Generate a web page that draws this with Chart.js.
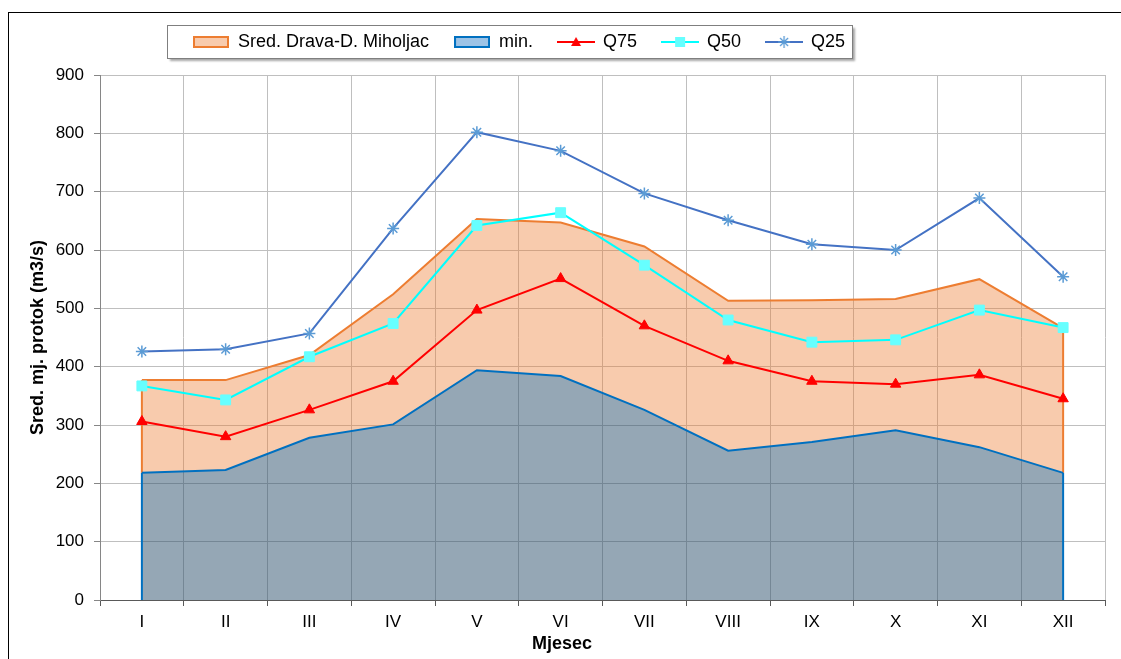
<!DOCTYPE html>
<html><head><meta charset="utf-8">
<script src="https://cdn.jsdelivr.net/npm/chart.js@4"></script>
<style>html,body{margin:0;padding:0;background:#fff}#wrap{width:1121px;height:659px}</style>
</head><body><div id="wrap"><canvas id="c" width="1121" height="659"></canvas></div>
<script>
// ---- data ----
const months = ['I','II','III','IV','V','VI','VII','VIII','IX','X','XI','XII'];
const sredDrava = [377, 377, 420, 524, 653, 647, 606, 513, 514, 516, 550, 466];
const minFlow   = [218, 223, 278, 301, 394, 384, 326, 256, 271, 291, 262, 218];
const q75       = [306, 280, 326, 375, 497, 551, 470, 410, 375, 370, 386, 345];
const q50       = [367, 343, 417, 474, 642, 664, 574, 480, 442, 446, 497, 467];
const q25       = [426, 430, 457, 637, 802, 770, 697, 651, 610, 600, 689, 554];
const yAxisMin = 0, yAxisMax = 900, yAxisStep = 100;
const seriesNames = ['Sred. Drava-D. Miholjac', 'min.', 'Q75', 'Q50', 'Q25'];
const xTitle = 'Mjesec';
const yTitle = 'Sred. mj. protok (m3/s)';

// ---- legend symbols ----
function patchImg(fill, stroke) {
  const c = document.createElement('canvas'); c.width = 36; c.height = 12;
  const g = c.getContext('2d');
  g.fillStyle = fill; g.fillRect(1, 1, 34, 10);
  g.strokeStyle = stroke; g.lineWidth = 2; g.strokeRect(1, 1, 34, 10);
  return c;
}
function lineImg(color, marker, mcolor) {
  const c = document.createElement('canvas'); c.width = 38; c.height = 14;
  const g = c.getContext('2d');
  g.strokeStyle = color; g.lineWidth = 2;
  g.beginPath(); g.moveTo(0, 7); g.lineTo(38, 7); g.stroke();
  g.fillStyle = mcolor; g.strokeStyle = mcolor;
  if (marker === 'tri') { g.beginPath(); g.moveTo(19, 2); g.lineTo(24, 11); g.lineTo(14, 11); g.closePath(); g.fill(); }
  else if (marker === 'sq') { g.fillRect(14, 2, 10, 10); }
  else { g.lineWidth = 1.3; g.beginPath();
    g.moveTo(19, 1); g.lineTo(19, 13); g.moveTo(13, 7); g.lineTo(25, 7);
    g.moveTo(15, 3); g.lineTo(23, 11); g.moveTo(23, 3); g.lineTo(15, 11); g.stroke(); }
  return c;
}
const legendImgs = [
  patchImg('#F8CBAD', '#ED7D31'),
  patchImg('#9DC3E6', '#0070C0'),
  lineImg('#FF0000', 'tri', '#FF0000'),
  lineImg('#00FFFF', 'sq', '#66FFFF'),
  lineImg('#4472C4', 'star', '#5B9BD5')
];

// ---- plugins ----
const decor = {
  id: 'decor',
  afterLayout(chart) {
    const lg = chart.legend;
    lg.left = 168; lg.right = 1121; lg.top = 8;
    const tb = chart.titleBlock;
    if (tb) { tb.left = 0; tb.right = 1124; }
  },
  beforeDraw(chart) {
    const ctx = chart.ctx;
    ctx.save();
    ctx.fillStyle = '#fff'; ctx.fillRect(0, 0, chart.width, chart.height);
    ctx.strokeStyle = '#000'; ctx.lineWidth = 1;
    ctx.strokeRect(8.5, 12.5, 3000, 3000);
    const hb = chart.legend.legendHitBoxes;
    if (hb && hb.length) {
      const cy = hb[0].top + 9;
      const l = Math.round(hb[0].left - 26) + 0.5;
      const last = hb[hb.length - 1];
      const r = Math.round(last.left + last.width + 7) + 0.5;
      const t = Math.round(cy - 17) + 0.5, b = Math.round(cy + 16) + 0.5;
      ctx.shadowColor = 'rgba(0,0,0,0.35)'; ctx.shadowOffsetX = 2; ctx.shadowOffsetY = 2; ctx.shadowBlur = 2;
      ctx.fillStyle = '#fff'; ctx.fillRect(l, t, r - l, b - t);
      ctx.shadowColor = 'transparent';
      ctx.strokeStyle = '#7F7F7F'; ctx.strokeRect(l, t, r - l, b - t);
    }
    ctx.restore();
  },
  afterDatasetDraw(chart, args) {
    const ctx = chart.ctx;
    const y = chart.scales.y;
    if (args.index === 0 || args.index === 1) {
      const meta = chart.getDatasetMeta(args.index);
      const minMeta = chart.getDatasetMeta(1);
      const pts = [0, meta.data.length - 1];
      ctx.save();
      ctx.strokeStyle = args.index === 0 ? '#ED7D31' : '#0070C0';
      ctx.lineWidth = 2;
      pts.forEach(i => {
        const p = meta.data[i];
        const yb = args.index === 0 ? minMeta.data[i].y : y.getPixelForValue(0);
        ctx.beginPath(); ctx.moveTo(p.x, p.y); ctx.lineTo(p.x, yb); ctx.stroke();
      });
      ctx.restore();
    }
  }
};

Chart.defaults.font.family = '"Liberation Sans", Arial, sans-serif';
Chart.defaults.color = '#000';

new Chart(document.getElementById('c'), {
  type: 'line',
  data: {
    labels: months,
    datasets: [
      { label: seriesNames[0], data: sredDrava, order: 5, borderColor: '#ED7D31', borderWidth: 2,
        backgroundColor: 'rgba(237,125,49,0.4)', fill: 1, pointRadius: 0 },
      { label: seriesNames[1], data: minFlow, order: 4, borderColor: '#0070C0', borderWidth: 2,
        backgroundColor: 'rgba(43,79,107,0.5)', fill: 'origin', pointRadius: 0 },
      { label: seriesNames[2], data: q75, order: 1, borderColor: '#FF0000', borderWidth: 2, fill: false,
        pointStyle: 'triangle', pointRadius: 6, pointBackgroundColor: '#FF0000', pointBorderColor: '#FF0000', pointBorderWidth: 1 },
      { label: seriesNames[3], data: q50, order: 2, borderColor: '#00FFFF', borderWidth: 2, fill: false,
        pointStyle: 'rect', pointRadius: 7, pointBackgroundColor: '#66FFFF', pointBorderColor: '#66FFFF', pointBorderWidth: 1 },
      { label: seriesNames[4], data: q25, order: 3, borderColor: '#4472C4', borderWidth: 2, fill: false,
        pointStyle: 'star', pointRadius: 6, pointBorderColor: '#5B9BD5', pointBorderWidth: 1.5 }
    ]
  },
  options: {
    responsive: false,
    animation: false,
    devicePixelRatio: 1,
    layout: { padding: { left: 0, right: 16, top: 22, bottom: 0 } },
    elements: { line: { tension: 0 } },
    plugins: {
      tooltip: { enabled: false },
      legend: {
        position: 'top', align: 'start',
        labels: {
          usePointStyle: true, pointStyleWidth: 36, padding: 25,
          font: { size: 18 }, color: '#000',
          generateLabels(chart) {
            return chart.data.datasets.map((ds, i) => ({
              text: ds.label, pointStyle: legendImgs[i], fillStyle: '#fff', strokeStyle: '#fff',
              lineWidth: 0, hidden: false, datasetIndex: i, fontColor: '#000'
            }));
          }
        }
      },
      title: { display: true, position: 'bottom', text: xTitle, color: '#000',
        font: { size: 18, weight: 'bold' }, padding: { top: 0, bottom: 4 } }
    },
    scales: {
      x: {
        offset: true,
        grid: { offset: true, color: '#BFBFBF', tickColor: '#595959', tickLength: 6, lineWidth: 1 },
        border: { color: '#595959' },
        ticks: { font: { size: 17 }, color: '#000', padding: 6, maxRotation: 0, autoSkip: false },
        afterFit(s) { s.height = 33.4; }
      },
      y: {
        min: yAxisMin, max: yAxisMax,
        grid: { color: '#BFBFBF', tickColor: '#868686', tickLength: 6, lineWidth: 1 },
        border: { color: '#868686' },
        ticks: { stepSize: yAxisStep, font: { size: 17 }, color: '#000', padding: 10 },
        title: { display: true, text: yTitle, color: '#000', font: { size: 18, weight: 'bold' }, padding: { top: 27, bottom: 0 } },
        afterFit(s) { s.width = 100; }
      }
    }
  },
  plugins: [decor]
});
</script>
</body></html>
